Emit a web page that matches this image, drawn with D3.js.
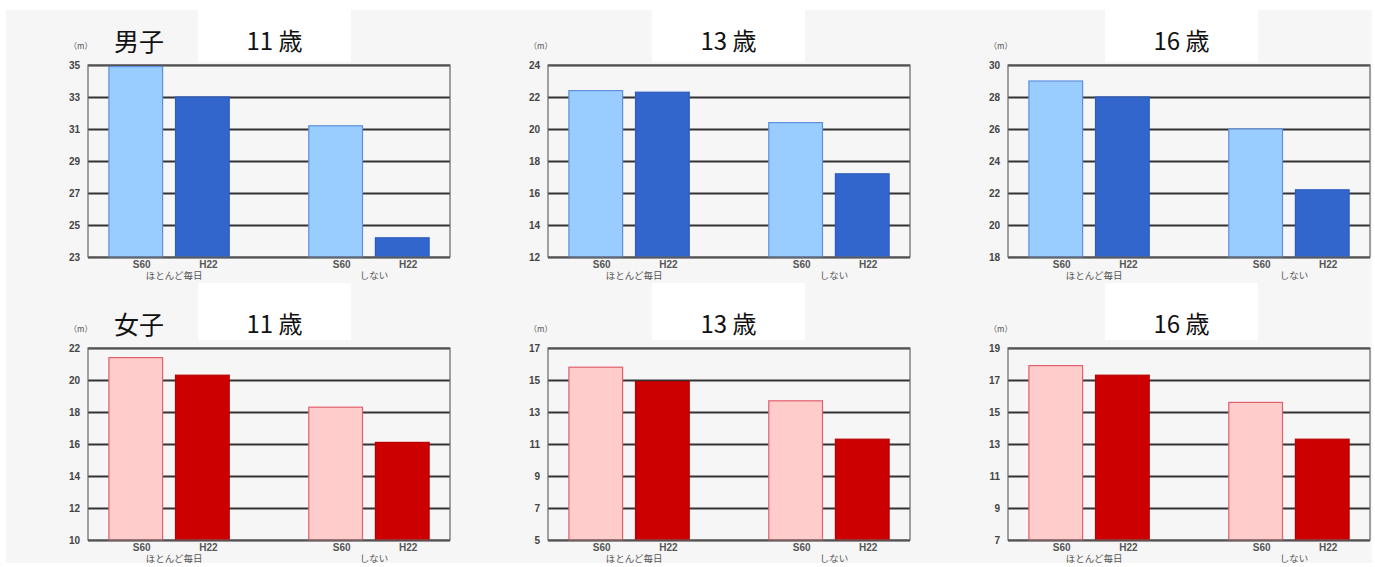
<!DOCTYPE html>
<html>
<head>
<meta charset="utf-8">
<script src="https://cdn.jsdelivr.net/npm/d3@7"></script>
<style>
  body { margin: 0; background: #fff; }
  text { font-family: "Noto Sans CJK JP", "Noto Sans", sans-serif; }
</style>
</head>
<body>
<svg id="chart" width="1375" height="567"></svg>
<script>
// categories
var groups = ["ほとんど毎日", "しない"];
var years = ["S60", "H22"];
var ages = ["11 歳", "13 歳", "16 歳"];
var sexes = ["男子", "女子"];

// values: [S60, H22] for each group, per age
var boys11 = [[34.9, 33.0], [31.2, 24.2]];
var boys13 = [[22.4, 22.3], [20.4, 17.2]];
var boys16 = [[29.0, 28.0], [26.0, 22.2]];
var girls11 = [[21.4, 20.3], [18.3, 16.1]];
var girls13 = [[15.8, 14.9], [13.7, 11.3]];
var girls16 = [[17.9, 17.3], [15.6, 13.3]];

// y axis tick labels
var boys11Ticks = [23, 25, 27, 29, 31, 33, 35];
var boys13Ticks = [12, 14, 16, 18, 20, 22, 24];
var boys16Ticks = [18, 20, 22, 24, 26, 28, 30];
var girls11Ticks = [10, 12, 14, 16, 18, 20, 22];
var girls13Ticks = [5, 7, 9, 11, 13, 15, 17];
var girls16Ticks = [7, 9, 11, 13, 15, 17, 19];

var svg = d3.select("#chart");

var rows = [
  { sex: sexes[0], data: [boys11, boys13, boys16], ticks: [boys11Ticks, boys13Ticks, boys16Ticks],
    fill: ["#99ccff", "#3366cc"], stroke: ["#5f8fdc", "#2c5cbf"] },
  { sex: sexes[1], data: [girls11, girls13, girls16], ticks: [girls11Ticks, girls13Ticks, girls16Ticks],
    fill: ["#ffcccc", "#cc0000"], stroke: ["#e0606e", "#b80000"] }
];

var plotLeft = [88, 548, 1008];
var plotTop = [65, 348];
var plotW = 362, plotH = 192;
var boxLeft = [198, 652, 1105], boxW = 153;

// light grey backdrop
svg.append("rect")
  .attr("x", 6).attr("y", 10)
  .attr("width", 1366).attr("height", 553)
  .attr("fill", "#f6f6f6");

rows.forEach(function(row, r) {
  var top = plotTop[r];

  // white title boxes
  ages.forEach(function(age, a) {
    svg.append("rect")
      .attr("x", boxLeft[a])
      .attr("y", r == 0 ? 0 : top - 65)
      .attr("width", boxW)
      .attr("height", r == 0 ? top - 3 : 57)
      .attr("fill", "#fff");
    svg.append("text")
      .attr("x", boxLeft[a] + boxW / 2)
      .attr("y", top - 15)
      .attr("text-anchor", "middle")
      .style("font-size", "24px")
      .style("fill", "#111")
      .text(age);
  });

  svg.append("text")
    .attr("x", 114)
    .attr("y", top - 14)
    .style("font-size", "25px")
    .style("fill", "#111")
    .text(row.sex);

  row.data.forEach(function(vals, a) {
    var left = plotLeft[a];
    var ticks = row.ticks[a];
    var g = svg.append("g");

    var y = d3.scaleLinear()
      .domain([ticks[0], ticks[ticks.length - 1]])
      .range([top + plotH, top]);
    var x0 = d3.scaleBand()
      .domain(groups)
      .range([left, left + plotW])
      .paddingInner(0.398)
      .paddingOuter(0.1045);
    var x1 = d3.scaleBand()
      .domain(years)
      .range([0, x0.bandwidth()])
      .paddingInner(0.194);

    // grid + tick labels
    var yAxis = d3.axisLeft(y)
      .tickValues(ticks)
      .tickSize(-plotW)
      .tickPadding(8);
    var ax = g.append("g")
      .attr("transform", "translate(" + left + ",0)")
      .call(yAxis);
    ax.select(".domain").remove();
    ax.selectAll("line")
      .attr("stroke", "#333")
      .attr("stroke-width", 1.8);
    ax.selectAll("text")
      .style("font-family", "Liberation Sans, Arial, sans-serif")
      .style("font-size", "10px")
      .style("font-weight", "bold")
      .style("fill", "#444");

    // bars
    groups.forEach(function(grp, gi) {
      years.forEach(function(yr, yi) {
        g.append("rect")
          .attr("x", x0(grp) + x1(yr))
          .attr("y", y(vals[gi][yi]))
          .attr("width", x1.bandwidth())
          .attr("height", y(ticks[0]) - y(vals[gi][yi]))
          .attr("fill", row.fill[yi])
          .attr("stroke", row.stroke[yi])
          .attr("stroke-width", 1.2);

        g.append("text")
          .attr("x", x0(grp) + x1(yr) + x1.bandwidth() / 2 + 6)
          .attr("y", top + plotH + 11)
          .attr("text-anchor", "middle")
          .style("font-family", "Liberation Sans, Arial, sans-serif")
          .style("font-size", "10px")
          .style("font-weight", "bold")
          .style("fill", "#555")
          .text(yr);
      });

      g.append("text")
        .attr("x", x0(grp) + x0.bandwidth() / 2 + 5)
        .attr("y", top + plotH + 22)
        .attr("text-anchor", "middle")
        .style("font-size", "9.5px")
        .style("fill", "#555")
        .text(grp);
    });

    // plot frame
    g.append("rect")
      .attr("x", left).attr("y", top)
      .attr("width", plotW).attr("height", plotH)
      .attr("fill", "none")
      .attr("stroke", "#666")
      .attr("stroke-width", 1.2);

    g.append("text")
      .attr("x", left - 19)
      .attr("y", top - 16)
      .style("font-size", "8px")
      .style("fill", "#555")
      .text("（m）");
  });
});
</script>
</body>
</html>
